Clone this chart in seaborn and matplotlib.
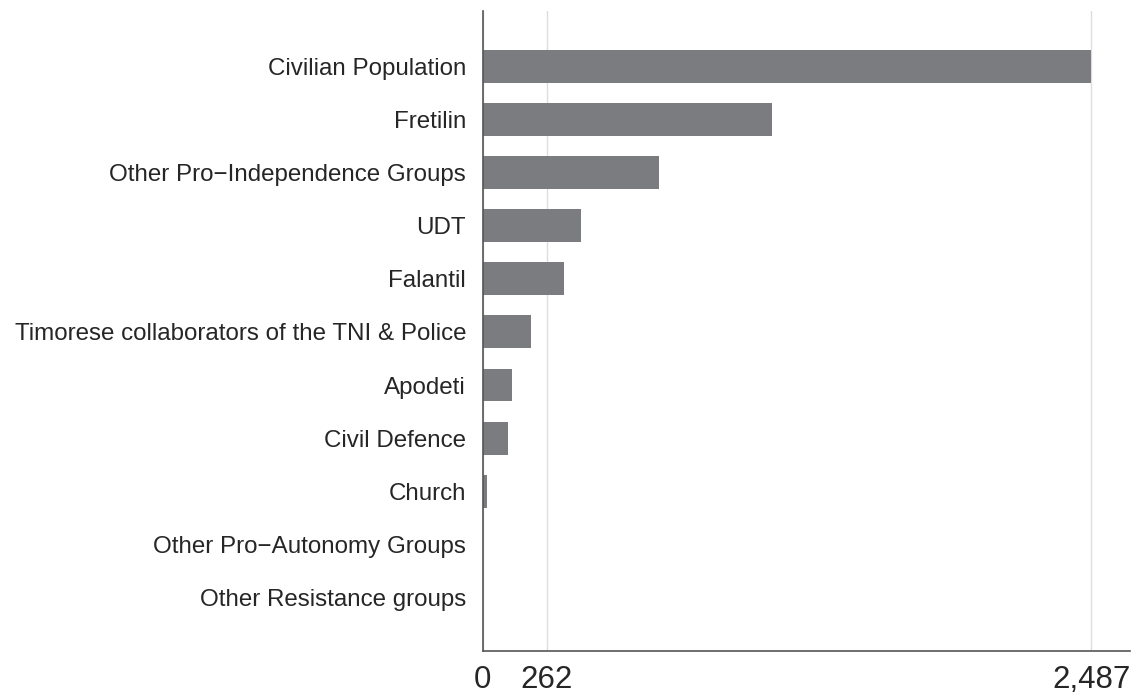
import seaborn as sns
import matplotlib.pyplot as plt
import pandas as pd

# values
groups = [
    "Civilian Population",
    "Fretilin",
    "Other Pro\u2212Independence Groups",
    "UDT",
    "Falantil",
    "Timorese collaborators of the TNI & Police",
    "Apodeti",
    "Civil Defence",
    "Church",
    "Other Pro\u2212Autonomy Groups",
    "Other Resistance groups",
]
counts = [2487, 1182, 720, 401, 331, 196, 119, 102, 16, 2, 0]
xticks = [0, 262, 2487]

df = pd.DataFrame({"group": groups, "count": counts})

sns.set_style("white")
plt.rcParams["font.family"] = ["Liberation Sans", "DejaVu Sans"]

fig = plt.figure(figsize=(11.44, 6.98), dpi=100)
ax = fig.add_axes([0.422, 0.067, 0.566, 0.917])

sns.barplot(data=df, x="count", y="group", orient="h", color="#7b7c80",
            saturation=1, width=0.62, linewidth=0, ax=ax, zorder=3)

ax.set_xlim(0, 2646)
ax.set_ylim(11.01, -1.036)
ax.set_xticks(xticks)
ax.set_xticklabels([f"{v:,}" for v in xticks], fontsize=22.5)
ax.grid(axis="x", color="#dddddd", linewidth=1, zorder=0)
ax.set_xlabel("")
ax.set_ylabel("")
ax.tick_params(axis="y", length=0, labelsize=17.4, pad=12)
ax.tick_params(axis="x", length=8.5, width=1, color="#555555", pad=1.5)

for side in ["top", "right"]:
    ax.spines[side].set_visible(False)
for side in ["left", "bottom"]:
    ax.spines[side].set_color("#555555")
    ax.spines[side].set_linewidth(1.2)
    ax.spines[side].set_zorder(5)

fig.savefig("out.png", dpi=100)
